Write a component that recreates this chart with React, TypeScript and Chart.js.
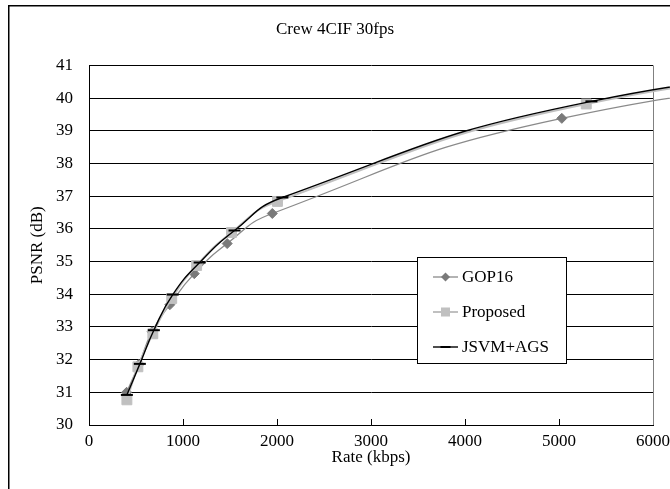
import React, { useEffect, useRef } from "react";
import { Chart, registerables } from "chart.js";

Chart.register(...registerables);

const chartTitle = "Crew 4CIF 30fps";
const xTitle = "Rate (kbps)";
const yTitle = "PSNR (dB)";
const seriesNames = ["GOP16", "Proposed", "JSVM+AGS"];

const gopRate = [400, 530, 670, 860, 1120, 1470, 1950, 5030, 9000];
const gopPsnr = [31.0, 31.85, 32.85, 33.68, 34.63, 35.55, 36.47, 39.38, 40.8];

const propRate = [403, 520, 679, 880, 1145, 1516, 2005, 5290, 9000];
const propPsnr = [30.77, 31.78, 32.79, 33.87, 34.88, 35.89, 36.84, 39.82, 41.0];

const agsRate = [403, 541, 690, 891, 1177, 1548, 2057, 5345, 9000];
const agsPsnr = [30.92, 31.87, 32.9, 33.99, 34.97, 35.95, 36.96, 39.9, 41.02];

const xMin = 0;
const xMax = 6000;
const xStep = 1000;
const yMin = 30;
const yMax = 41;
const yStep = 1;

const FONT = "'Liberation Serif', 'Times New Roman', serif";

const toPoints = (xs: number[], ys: number[]) => xs.map((x, i) => ({ x, y: ys[i] }));

const framePlugin = {
  id: "frame",
  beforeDatasetsDraw(chart: any) {
    const { ctx, chartArea, scales } = chart;
    ctx.save();
    ctx.strokeStyle = "#808080";
    ctx.lineWidth = 1;
    ctx.beginPath();
    ctx.moveTo(Math.round(chartArea.right) + 0.5, chartArea.top);
    ctx.lineTo(Math.round(chartArea.right) + 0.5, chartArea.bottom);
    ctx.stroke();
    ctx.strokeStyle = "#000";
    const xs = scales.x;
    for (let v = xMin + xStep; v < xMax; v += xStep) {
      const px = Math.round(xs.getPixelForValue(v)) + 0.5;
      ctx.beginPath();
      ctx.moveTo(px, chartArea.bottom);
      ctx.lineTo(px, chartArea.bottom - 6);
      ctx.stroke();
    }
    ctx.restore();
  },
  afterDraw(chart: any) {
    const { ctx } = chart;
    ctx.save();
    ctx.strokeStyle = "#000";
    ctx.lineWidth = 1.5;
    ctx.beginPath();
    ctx.moveTo(8.75, 700);
    ctx.lineTo(8.75, 5.75);
    ctx.lineTo(900, 5.75);
    ctx.stroke();

    const lx = 417, ly = 257, lw = 149, lh = 106;
    ctx.fillStyle = "#fff";
    ctx.fillRect(lx, ly, lw, lh);
    ctx.strokeStyle = "#000";
    ctx.lineWidth = 1;
    ctx.strokeRect(lx + 0.5, ly + 0.5, lw, lh);
    const rows = [ly + 20, ly + 55, ly + 90];
    ctx.font = `17px ${FONT}`;
    ctx.textBaseline = "middle";
    ctx.textAlign = "left";
    chart.data.datasets.forEach((ds: any, i: number) => {
      const y = rows[i];
      const x0 = lx + 16, x1 = lx + 41, xm = (x0 + x1) / 2;
      ctx.strokeStyle = ds.borderColor;
      ctx.lineWidth = ds.borderWidth;
      ctx.beginPath();
      ctx.moveTo(x0, y);
      ctx.lineTo(x1, y);
      ctx.stroke();
      ctx.fillStyle = ds.pointBackgroundColor;
      ctx.strokeStyle = ds.pointBorderColor;
      if (ds.pointStyle === "rectRot") {
        const r = 4.5;
        ctx.beginPath();
        ctx.moveTo(xm - r, y);
        ctx.lineTo(xm, y - r);
        ctx.lineTo(xm + r, y);
        ctx.lineTo(xm, y + r);
        ctx.closePath();
        ctx.fill();
      } else if (ds.pointStyle === "rect") {
        const s = 4.5;
        ctx.fillRect(xm - s, y - s, 2 * s, 2 * s);
      } else {
        ctx.lineWidth = 2;
        ctx.beginPath();
        ctx.moveTo(xm - 5, y);
        ctx.lineTo(xm + 5, y);
        ctx.stroke();
      }
      ctx.fillStyle = "#000";
      ctx.fillText(ds.label, lx + 45, y + 1);
    });
    ctx.restore();
  },
};

export default function App() {
  const ref = useRef<HTMLCanvasElement | null>(null);

  useEffect(() => {
    if (!ref.current) return;
    const chart = new Chart(ref.current, {
      type: "line",
      data: {
        datasets: [
          {
            label: seriesNames[0],
            data: toPoints(gopRate, gopPsnr),
            borderColor: "#8a8a8a",
            borderWidth: 1.3,
            pointStyle: "rectRot",
            pointRadius: 5,
            pointBackgroundColor: "#7a7a7a",
            pointBorderColor: "#7a7a7a",
            pointBorderWidth: 1,
            tension: 0.5,
            clip: false,
            order: 2,
          },
          {
            label: seriesNames[1],
            data: toPoints(propRate, propPsnr),
            borderColor: "#c0c0c0",
            borderWidth: 2,
            pointStyle: "rect",
            pointRadius: 7,
            pointBackgroundColor: "#c0c0c0",
            pointBorderColor: "#c0c0c0",
            pointBorderWidth: 1,
            tension: 0.5,
            clip: false,
            order: 1,
          },
          {
            label: seriesNames[2],
            data: toPoints(agsRate, agsPsnr),
            borderColor: "#000000",
            borderWidth: 1.4,
            pointStyle: "line",
            pointRadius: 6,
            pointBackgroundColor: "#000000",
            pointBorderColor: "#000000",
            pointBorderWidth: 2,
            tension: 0.5,
            clip: false,
            order: 0,
          },
        ] as any,
      },
      options: {
        animation: false,
        responsive: false,
        maintainAspectRatio: false,
        events: [],
        elements: { line: { capBezierPoints: false } as any },
        layout: { padding: { left: 0, right: 0, top: 0, bottom: 0 } },
        plugins: {
          legend: { display: false },
          tooltip: { enabled: false },
          title: {
            display: true,
            text: chartTitle,
            color: "#000",
            font: { family: FONT, size: 17, weight: "normal" },
            padding: { top: 19, bottom: 26 },
          },
        },
        scales: {
          x: {
            type: "linear",
            min: xMin,
            max: xMax,
            ticks: {
              stepSize: xStep,
              color: "#000",
              padding: 6,
              maxRotation: 0,
              font: { family: FONT, size: 17 },
              callback: (v: any) => String(v),
            },
            grid: { display: false, drawTicks: false },
            border: { display: true, color: "#000", width: 1 },
            title: {
              display: true,
              text: xTitle,
              color: "#000",
              font: { family: FONT, size: 17 },
              padding: { top: 0, bottom: 21 },
            },
            afterFit: (s: any) => {
              s.height = 64;
              s.paddingLeft = 0;
              s.paddingRight = 0;
            },
          },
          y: {
            type: "linear",
            min: yMin,
            max: yMax,
            ticks: {
              stepSize: yStep,
              color: "#000",
              padding: 16,
              font: { family: FONT, size: 17 },
            },
            grid: { color: "#000", lineWidth: 1, drawTicks: false },
            border: { display: true, color: "#000", width: 1 },
            title: {
              display: true,
              text: yTitle,
              color: "#000",
              font: { family: FONT, size: 17 },
              padding: { top: 27, bottom: 0 },
            },
            afterFit: (s: any) => {
              s.width = 89;
              s.paddingTop = 0;
              s.paddingBottom = 0;
            },
          },
          yRight: {
            type: "linear",
            position: "right",
            min: yMin,
            max: yMax,
            ticks: { display: false },
            grid: { display: false, drawTicks: false },
            border: { display: false },
            afterFit: (s: any) => {
              s.width = 17;
              s.paddingTop = 0;
              s.paddingBottom = 0;
            },
          },
        },
      },
      plugins: [framePlugin],
    });
    return () => chart.destroy();
  }, []);

  return (
    <div style={{ position: "fixed", left: 0, top: 0, width: 670, height: 489, background: "#fff", overflow: "hidden" }}>
      <canvas ref={ref} width={670} height={489} style={{ width: 670, height: 489, display: "block" }} />
    </div>
  );
}
